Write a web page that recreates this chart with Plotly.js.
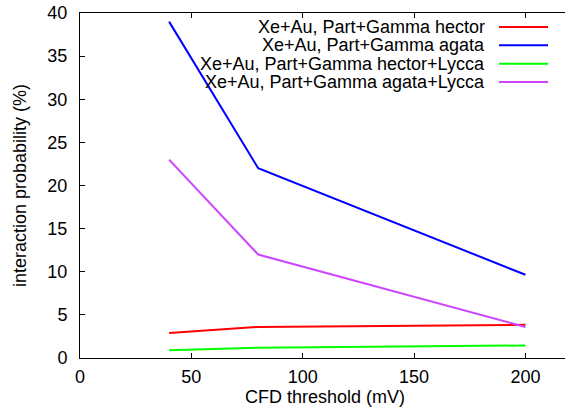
<!DOCTYPE html>
<html>
<head>
<meta charset="utf-8">
<script src="https://cdn.plot.ly/plotly-3.0.1.min.js"></script>
<style>
html, body { margin: 0; padding: 0; overflow: hidden; background: #fff; }
#chart { width: 572px; height: 415px; }
</style>
</head>
<body>
<div id="chart"></div>
<script>
// CFD threshold (mV)
const thresholds = [40, 80, 200];
// interaction probability (%)
const hectorValues = [2.9, 3.6, 3.85];
const agataValues = [39.0, 22.0, 9.65];
const hectorLyccaValues = [0.9, 1.2, 1.45];
const agataLyccaValues = [23.0, 12.0, 3.6];

const seriesNames = [
  "Xe+Au, Part+Gamma hector",
  "Xe+Au, Part+Gamma agata",
  "Xe+Au, Part+Gamma hector+Lycca",
  "Xe+Au, Part+Gamma agata+Lycca"
];
const seriesValues = [hectorValues, agataValues, hectorLyccaValues, agataLyccaValues];
const seriesColors = ["#ff0000", "#0000ff", "#00ff00", "#cc44ff"];

const xTicks = [0, 50, 100, 150, 200];
const yTicks = [0, 5, 10, 15, 20, 25, 30, 35, 40];

const font = "Liberation Sans, Arial, sans-serif";

const traces = seriesValues.map((vals, i) => ({
  x: thresholds,
  y: vals,
  type: "scatter",
  mode: "lines",
  name: seriesNames[i],
  line: { color: seriesColors[i], width: 2 },
  showlegend: false,
  hoverinfo: "skip"
}));

// legend drawn manually (text left of sample line, as in gnuplot)
const legendRowsY = [0.9594, 0.9064, 0.8530, 0.7999];
const annotations = seriesNames.map((n, i) => ({
  text: n,
  xref: "paper", yref: "paper",
  x: 0.8296, y: legendRowsY[i],
  xanchor: "right", yanchor: "middle",
  showarrow: false,
  font: { family: font, size: 18, color: "#000" }
}));
const shapes = seriesNames.map((n, i) => ({
  type: "line",
  xref: "paper", yref: "paper",
  x0: 0.8551, x1: 0.9551,
  y0: legendRowsY[i], y1: legendRowsY[i],
  line: { color: seriesColors[i], width: 2 }
}));

const layout = {
  width: 572,
  height: 415,
  margin: { l: 80, r: 2, t: 13, b: 57 },
  paper_bgcolor: "#fff",
  plot_bgcolor: "#fff",
  font: { family: font, size: 18, color: "#000" },
  showlegend: false,
  xaxis: {
    range: [0, 220],
    tickvals: xTicks,
    ticktext: xTicks.map(String),
    ticks: "inside",
    ticklen: 5,
    tickcolor: "#000",
    showline: true,
    linecolor: "#000",
    linewidth: 1,
    mirror: "ticks",
    showgrid: false,
    zeroline: false,
    ticklabelstandoff: 2,
    tickfont: { family: font, size: 18, color: "#000" },
    title: { text: "CFD threshold (mV)", font: { family: font, size: 18, color: "#000" }, standoff: 4 }
  },
  yaxis: {
    range: [0, 40],
    tickvals: yTicks,
    ticktext: yTicks.map(String),
    ticks: "inside",
    ticklen: 5,
    tickcolor: "#000",
    showline: true,
    linecolor: "#000",
    linewidth: 1,
    mirror: "ticks",
    showgrid: false,
    zeroline: false,
    ticklabelstandoff: 8,
    tickfont: { family: font, size: 18, color: "#000" },
    title: { text: "interaction probability (%)", font: { family: font, size: 18, color: "#000" }, standoff: 16 }
  },
  annotations: annotations,
  shapes: shapes
};

Plotly.newPlot("chart", traces, layout, { displayModeBar: false, staticPlot: true });
</script>
</body>
</html>
